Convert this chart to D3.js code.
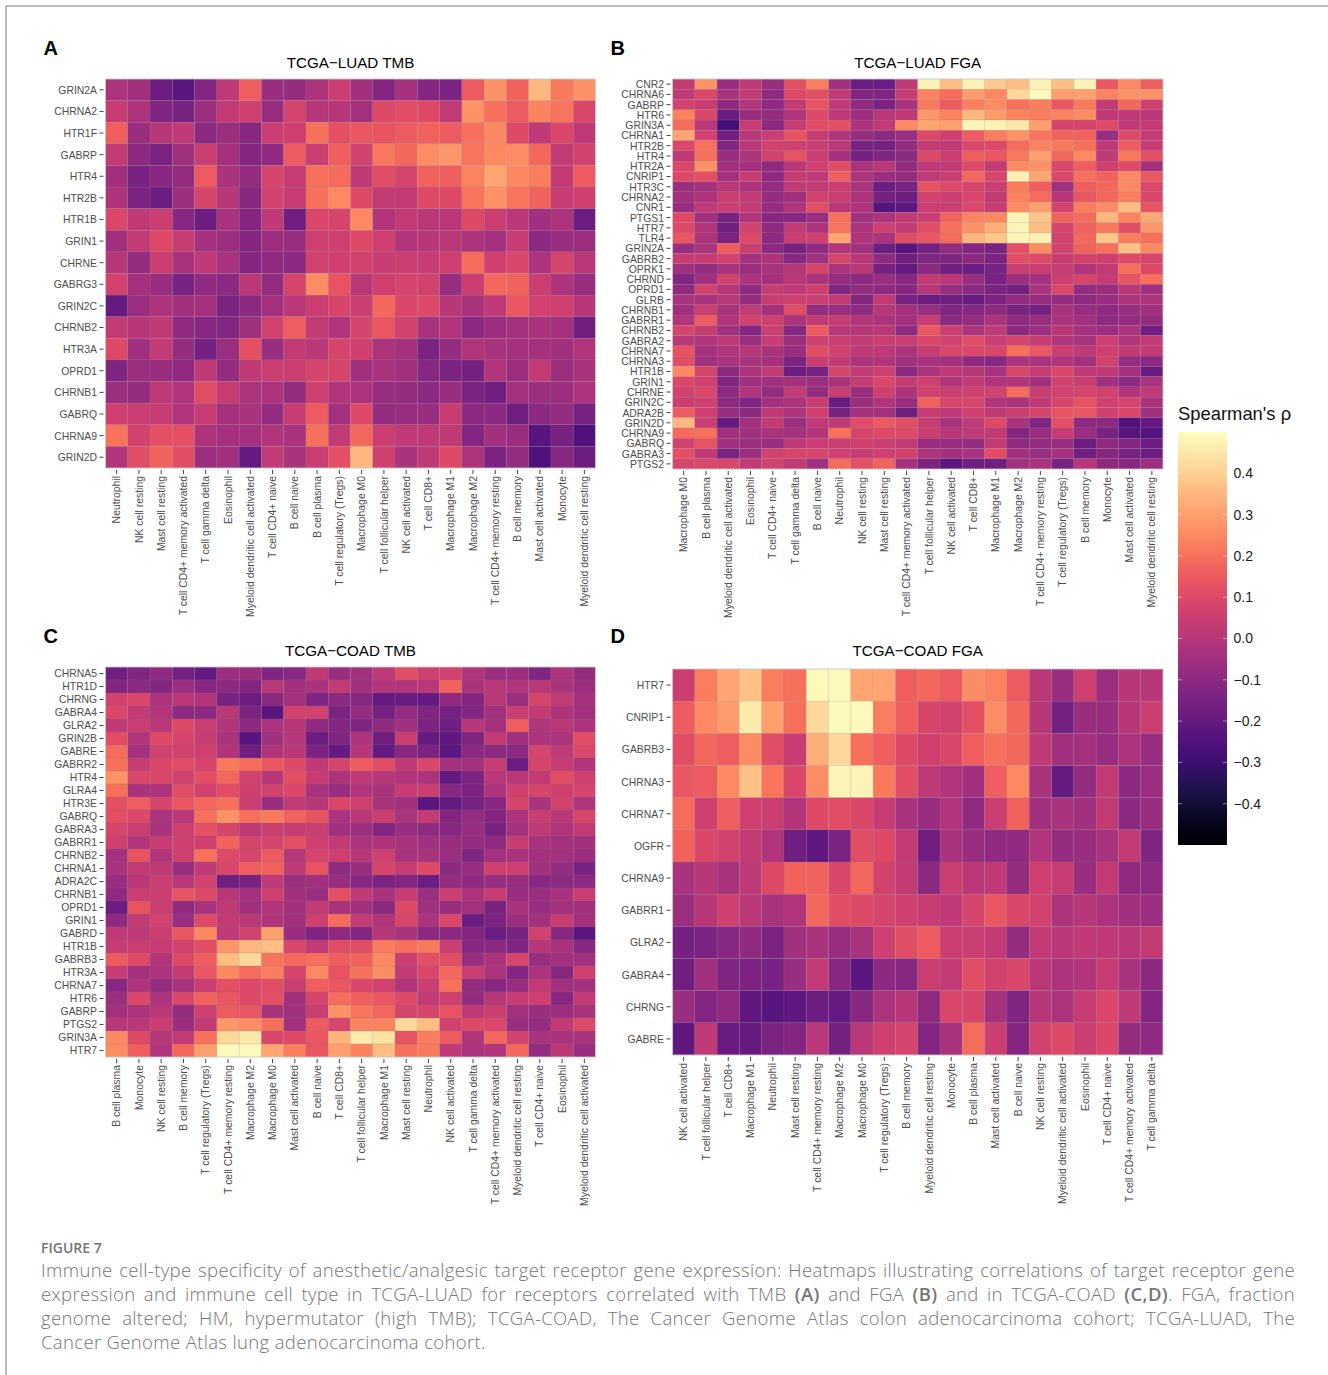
<!DOCTYPE html>
<html lang="en">
<head>
<meta charset="UTF-8">
<title>Figure 7</title>
<script src="https://d3js.org/d3.v7.min.js"></script>
<style>
  body { margin: 0; background: #fff; }
  svg { display: block; }
  text { font-family: "Liberation Sans", Arial, sans-serif; }
  .axis text { fill: #4d4d4d; font-size: 10.4px; font-family: "Liberation Sans", Arial, sans-serif; }
  .axis line { stroke: #444; stroke-width: 1; }
  .axis path { display: none; }
  .title { font-size: 15.2px; fill: #000; text-anchor: middle; }
  .letter { font-size: 20px; font-weight: bold; fill: #000; }
  .cap { font-family: "Open Sans", sans-serif; fill: #757575; font-size: 18.5px; font-weight: 300; letter-spacing: 0.35px; }
</style>
</head>
<body>
<svg width="1328" height="1375"></svg>
<script>
var luadTmbGenes = ["GRIN2A","CHRNA2","HTR1F","GABRP","HTR4","HTR2B","HTR1B","GRIN1","CHRNE","GABRG3","GRIN2C","CHRNB2","HTR3A","OPRD1","CHRNB1","GABRQ","CHRNA9","GRIN2D"];
var luadTmbCells = ["Neutrophil","NK cell resting","Mast cell resting","T cell CD4+ memory activated","T cell gamma delta","Eosinophil","Myeloid dendritic cell activated","T cell CD4+ naive","B cell naive","B cell plasma","T cell regulatory (Tregs)","Macrophage M0","T cell follicular helper","NK cell activated","T cell CD8+","Macrophage M1","Macrophage M2","T cell CD4+ memory resting","B cell memory","Mast cell activated","Monocyte","Myeloid dendritic cell resting"];
var luadTmbRho = [
[-.02,-.05,-.18,-.22,-.12,.02,.16,-.07,-.08,-.02,.05,-.05,-.12,-.04,-.12,-.14,.15,.27,.17,.35,.22,.27],
[.04,-.02,-.13,-.15,-.06,.03,.06,-.07,.08,0,0,-.04,.1,.11,.1,.03,.27,.2,.15,.24,.21,.09],
[.16,-.07,0,.02,-.1,-.06,-.11,.05,.06,.2,.12,.14,.13,.15,.17,.15,.2,.25,.1,.02,.09,.02],
[.03,-.1,-.14,-.05,.05,-.04,-.12,-.09,.15,.05,.16,.07,.22,.18,.26,.28,.21,.25,.26,.18,.03,.07],
[-.05,-.15,-.11,-.08,.15,-.03,-.08,.08,.04,.2,.19,.02,.11,.08,.17,.16,.24,.31,.25,.23,.03,.15],
[-.02,-.14,-.18,-.06,.08,0,-.11,.07,.04,.2,.25,.1,.03,.03,.1,.1,.21,.27,.21,.17,.04,.06],
[.09,.02,.05,-.11,-.18,-.03,-.12,.02,-.17,.09,.08,.25,-.01,.03,.01,.01,.1,.05,.01,-.05,-.02,-.18],
[-.05,.03,.1,.04,-.04,-.06,-.12,-.06,-.07,.06,.06,.1,.06,-.01,0,.01,-.02,-.04,.04,-.1,-.07,-.06],
[0,-.08,.05,-.03,.02,-.03,-.12,-.09,-.1,.07,.06,.07,.04,.05,.04,.06,.19,.06,.09,-.02,.08,.01],
[.07,-.04,-.07,-.15,-.09,-.1,.01,-.08,.08,.26,.13,.01,.06,.08,.07,-.07,.05,.18,.17,.05,-.02,-.07],
[-.2,-.06,-.02,-.05,-.04,-.14,-.1,-.04,.01,.05,.08,.05,.18,.09,.1,0,-.03,.02,.14,.07,.06,0],
[.03,0,.02,-.09,-.11,-.12,-.05,.07,.16,.03,-.01,.08,.14,.07,-.03,-.01,-.1,-.06,-.04,-.03,-.04,-.17],
[.1,-.05,.03,-.08,-.16,-.06,.12,-.07,.03,.01,.08,.06,-.02,-.04,-.14,-.08,-.01,-.03,-.04,-.04,-.05,-.01],
[-.13,-.06,-.07,-.09,.02,-.08,.02,.05,.05,.08,.08,-.05,-.03,-.05,-.11,-.14,-.16,-.01,-.06,.03,-.06,-.03],
[-.06,-.08,.02,-.01,.11,.04,-.02,-.02,-.08,.06,-.01,-.02,-.07,-.08,-.1,-.07,-.14,-.17,-.04,-.06,-.06,-.02],
[.06,.05,.04,-.01,.04,-.04,-.03,-.08,.04,.15,-.04,.1,-.08,-.07,-.07,.04,-.1,-.1,-.17,-.1,-.08,-.15],
[.21,.07,.12,.12,-.02,-.04,-.04,-.01,-.03,.2,.03,.18,.05,.02,.02,.02,-.12,-.05,-.07,-.23,-.15,-.25],
[-.01,.11,.17,.11,-.06,-.05,-.2,.03,-.03,.05,.12,.35,.06,-.03,.02,.1,-.02,-.14,-.08,-.25,-.11,-.18]
];

var luadFgaGenes = ["CNR2","CHRNA6","GABRP","HTR6","GRIN3A","CHRNA1","HTR2B","HTR4","HTR2A","CNRIP1","HTR3C","CHRNA2","CNR1","PTGS1","HTR7","TLR4","GRIN2A","GABRB2","OPRK1","CHRND","OPRD1","GLRB","CHRNB1","GABRR1","CHRNB2","GABRA2","CHRNA7","CHRNA3","HTR1B","GRIN1","CHRNE","GRIN2C","ADRA2B","GRIN2D","CHRNA9","GABRQ","GABRA3","PTGS2"];
var luadFgaCells = ["Macrophage M0","B cell plasma","Myeloid dendritic cell activated","Eosinophil","T cell CD4+ naive","T cell gamma delta","B cell naive","Neutrophil","NK cell resting","Mast cell resting","T cell CD4+ memory activated","T cell follicular helper","NK cell activated","T cell CD8+","Macrophage M1","Macrophage M2","T cell CD4+ memory resting","T cell regulatory (Tregs)","B cell memory","Monocyte","Mast cell activated","Myeloid dendritic cell resting"];
var luadFgaRho = [
[.03,.27,-.07,.02,-.07,.12,.23,-.05,-.18,-.18,.02,.48,.36,.48,.39,.36,.47,.36,.48,.14,.25,.16],
[.02,.09,-.03,.03,-.09,.1,.11,.02,-.13,-.13,.04,.24,.19,.29,.25,.42,.49,.3,.3,.24,.27,.27],
[.07,.05,-.09,-.01,-.09,.03,.13,.02,-.09,-.14,-.03,.22,.15,.23,.26,.2,.23,.14,.22,.03,.18,.06],
[.24,.09,-.19,-.07,-.08,-.01,.1,.02,-.06,.01,.02,.28,.24,.35,.29,.24,.23,.24,.26,.02,.02,.01],
[.19,.01,-.27,.04,-.1,.04,.11,.12,-.02,.03,.25,.31,.3,.48,.48,.45,.3,.08,.08,.1,.02,.03],
[.31,.07,-.17,0,.05,.13,.04,-.01,-.08,-.1,-.07,.1,.06,.15,.23,.27,.21,.17,.17,-.07,.1,.03],
[.09,.2,-.12,.01,.07,.06,.05,.01,-.15,-.16,-.08,.03,.02,.09,.1,.19,.24,.22,.2,.02,.16,.04],
[.02,.2,-.07,-.02,.07,.13,.05,-.04,-.16,-.13,-.1,.1,.05,.16,.14,.22,.3,.18,.25,.02,.22,.12],
[.09,.27,-.04,-.04,-.09,.01,.06,.11,-.03,0,-.08,.02,.03,.1,.03,.26,.27,.09,.16,.06,.1,-.04],
[.1,.12,-.04,.04,-.09,.04,.02,.16,-.02,-.07,-.08,.02,.05,.18,.08,.47,.31,.09,.2,.17,.25,.14],
[-.06,-.04,.01,-.02,-.08,.02,.03,.05,-.03,-.18,-.15,.13,.1,.08,.05,.23,.16,-.05,.16,.18,.25,.09],
[-.05,-.02,.05,.03,-.08,-.05,.07,.05,-.02,-.16,-.18,.07,.05,.09,.03,.24,.19,0,.14,.18,.23,.09],
[-.07,.02,.05,.03,-.08,-.01,.11,.01,-.02,-.24,-.22,.05,.05,.09,.04,.26,.3,.07,.23,.26,.36,.13],
[.1,-.05,-.15,-.01,-.11,-.11,-.07,.2,-.05,-.02,.03,.05,.17,.24,.25,.48,.38,.17,.19,.35,.24,.32],
[.1,-.01,-.17,.07,-.09,.03,-.02,.21,-.02,.06,.03,.11,.2,.27,.33,.48,.36,.08,.17,.22,.11,.28],
[.14,-.02,-.14,.1,-.1,.05,.06,.31,-.01,-.02,.11,.14,.19,.35,.38,.48,.47,.07,.18,.38,.23,.2],
[-.07,-.03,.16,.05,-.1,-.15,-.09,-.01,-.05,-.18,-.23,-.16,-.08,-.12,-.15,.12,.26,.07,.17,.2,.37,.25],
[.04,.04,.07,-.05,-.02,-.11,-.05,.08,.01,-.09,-.17,-.13,-.13,-.1,-.14,.11,.1,.04,.07,.06,.1,.08],
[-.05,-.08,-.03,-.06,-.03,0,.08,-.02,.01,-.16,-.2,-.1,-.17,-.18,-.15,.05,.05,.04,-.01,.03,.2,.1],
[-.13,-.05,.07,-.02,-.04,.01,-.03,-.08,-.1,-.06,-.11,.03,.01,-.07,-.15,-.06,-.04,.05,.08,.04,.13,.2],
[-.09,.07,0,-.09,.04,.02,.06,-.13,-.08,-.09,-.11,0,-.07,-.1,-.14,-.16,-.03,.09,-.08,-.07,.01,-.05],
[-.03,-.03,.01,-.08,.04,.06,.05,.03,-.12,.03,-.15,-.18,-.17,-.19,-.14,-.08,-.07,-.08,-.09,-.07,-.02,-.02],
[-.05,.05,-.03,.03,-.04,.11,-.08,-.07,-.09,0,-.04,-.07,-.13,-.11,-.09,-.15,-.16,-.03,-.07,-.09,-.07,-.05],
[-.01,.15,-.01,.07,.06,-.02,.03,.04,-.01,-.02,-.04,.04,-.1,-.08,-.03,-.09,-.07,-.03,-.05,-.09,-.08,-.08],
[.08,.04,-.05,-.12,.05,-.11,.15,.01,0,.01,-.1,.14,.05,-.02,.02,-.1,-.06,.01,-.04,-.06,-.02,-.17],
[.01,-.01,.02,-.06,.04,-.06,.06,.05,.03,.05,.05,.09,.07,.11,.05,.08,.04,-.01,-.03,.06,-.01,.03],
[.13,-.04,-.01,0,-.03,-.07,.11,.07,.02,.02,-.02,.04,.09,.09,.09,.2,.14,.05,.02,.06,.03,.03],
[.11,-.05,-.03,-.03,-.04,-.14,.05,.03,-.02,-.01,-.05,-.03,-.04,-.09,-.11,-.02,-.03,-.01,-.04,.07,-.08,-.1],
[.25,.08,-.1,-.02,.03,-.18,-.15,.08,.03,.06,-.1,-.02,.02,0,-.03,.09,.04,.09,.02,.02,-.04,-.19],
[.09,.06,-.12,-.05,-.05,-.04,-.06,-.03,.04,.09,.04,.06,-.01,.03,-.01,-.01,-.04,.07,.05,-.05,-.1,-.03],
[.07,.09,-.1,-.01,-.08,.03,-.08,.05,-.07,.06,-.02,.07,.05,.06,.07,.19,.05,.07,.08,.07,-.01,.02],
[.05,.06,-.09,-.13,-.04,-.02,.04,-.19,-.06,-.01,-.07,.17,.08,.08,-.01,-.03,.02,.08,.13,.06,.08,-.03],
[.15,.06,-.07,-.1,.02,-.02,.06,-.15,-.04,-.04,-.17,.04,.02,.06,.02,.05,.08,.13,.14,.06,.09,-.05],
[.35,.05,-.2,-.04,.03,-.06,.02,.02,.11,.15,.11,.05,-.03,.02,.1,-.03,-.13,.12,-.09,-.1,-.25,-.2],
[.19,.2,-.05,-.05,-.03,-.04,-.01,.2,.08,.1,.1,.05,.01,.02,.03,-.12,-.07,.04,-.07,-.15,-.23,-.24],
[.07,.13,-.05,-.06,-.07,.02,.05,.05,.06,.05,.03,-.07,-.07,-.08,.03,-.09,-.08,-.07,-.18,-.09,-.12,-.18],
[.12,.02,-.15,-.06,.07,.08,.08,.06,.04,.06,.07,-.02,-.05,-.03,.11,-.05,-.07,-.04,-.17,-.11,-.15,-.18],
[.08,.09,.09,.03,.07,.03,-.05,.19,.12,.17,-.04,-.14,-.22,-.17,-.17,-.05,-.03,-.15,0,-.09,-.11,-.06]
];

var coadTmbGenes = ["CHRNA5","HTR1D","CHRNG","GABRA4","GLRA2","GRIN2B","GABRE","GABRR2","HTR4","GLRA4","HTR3E","GABRQ","GABRA3","GABRR1","CHRNB2","CHRNA1","ADRA2C","CHRNB1","OPRD1","GRIN1","GABRD","HTR1B","GABRB3","HTR3A","CHRNA7","HTR6","GABRP","PTGS2","GRIN3A","HTR7"];
var coadTmbCells = ["B cell plasma","Monocyte","NK cell resting","B cell memory","T cell regulatory (Tregs)","T cell CD4+ memory resting","Macrophage M2","Macrophage M0","Mast cell activated","B cell naive","T cell CD8+","T cell follicular helper","Macrophage M1","Mast cell resting","Neutrophil","NK cell activated","T cell gamma delta","T cell CD4+ memory activated","Myeloid dendritic cell resting","T cell CD4+ naive","Eosinophil","Myeloid dendritic cell activated"];
var coadTmbRho = [
[-.17,-.13,-.09,-.16,-.2,-.06,-.07,-.13,-.11,.02,-.07,-.05,.02,.11,.06,.07,-.01,-.06,-.06,-.13,-.02,-.08],
[-.12,-.1,-.12,-.06,-.11,-.1,-.12,.01,-.05,-.03,.03,-.05,-.01,-.01,.01,.17,-.03,.01,-.01,.01,-.03,-.06],
[.07,.09,-.02,.01,-.01,-.15,-.18,-.1,-.04,-.13,-.1,-.11,-.2,-.19,-.2,-.09,-.12,.01,-.06,.08,.03,-.04],
[.09,.03,-.01,-.1,-.1,.01,-.14,-.23,.07,.07,-.14,-.08,-.16,-.08,-.13,-.16,-.12,-.05,.05,.03,-.02,-.05],
[.02,.05,.01,.1,.05,-.01,-.1,-.02,0,-.09,-.12,-.13,-.09,-.05,-.14,-.17,0,-.04,.16,-.01,.01,-.02],
[.11,-.01,.1,.08,.04,-.03,-.23,-.05,0,-.18,-.13,-.02,-.17,.05,-.2,-.21,-.13,.03,-.05,-.02,-.02,.11],
[.19,-.04,.07,.07,.06,-.01,-.17,-.01,.01,-.14,-.2,0,-.2,-.11,-.14,-.22,-.1,-.1,-.1,.08,.02,.09],
[.2,.04,.09,.11,.08,.22,.19,.14,.1,.02,.08,.15,.11,.02,.09,-.04,-.04,.04,-.18,.08,.04,-.01],
[.27,.09,.09,.07,.12,.18,.07,0,.12,.04,-.02,.02,0,-.01,-.02,-.2,-.14,.01,.01,.03,.11,.06],
[.2,-.03,-.02,.11,.07,.11,.06,.07,.09,-.03,-.07,-.01,-.03,.04,.05,-.11,-.14,-.02,.06,.08,.06,.08],
[.12,.16,.08,.14,.18,.2,.05,-.07,.03,0,.09,.06,-.03,-.05,-.22,-.2,-.15,-.11,.08,-.03,.07,-.01],
[.12,.09,-.03,.01,.2,.27,.2,.22,.17,.13,-.02,.01,.05,-.03,.03,-.12,-.08,-.12,-.02,.05,.01,.08],
[.08,.05,-.03,.06,.12,.08,.02,.05,.04,.05,-.05,-.06,-.12,-.07,-.09,-.11,-.07,-.15,-.04,.02,-.01,.03],
[.06,-.01,.04,.06,.06,.17,.08,.08,.12,.06,.03,-.02,-.02,-.03,-.05,-.07,-.08,-.09,.04,-.03,-.04,-.05],
[-.04,.13,-.01,.06,.2,.1,.08,.15,0,.08,.06,0,.06,-.03,-.03,-.07,-.13,-.04,-.03,-.04,-.05,-.06],
[-.03,.03,.02,-.07,.02,.09,.16,.17,.02,.13,-.09,-.07,.08,.04,.1,-.1,-.07,.06,.06,-.05,-.08,-.15],
[-.07,.01,.05,.01,.07,-.17,-.15,.02,-.06,-.05,-.07,-.11,-.14,-.12,-.18,-.08,-.09,-.07,-.07,-.11,-.1,-.1],
[-.09,.05,.05,.13,.1,0,-.04,.06,-.05,-.06,.12,.02,-.03,.04,-.06,.05,-.02,.04,-.07,-.06,-.03,.05],
[-.18,.13,.05,-.09,-.03,.02,-.05,-.01,-.05,.03,-.03,-.05,-.1,.1,-.05,-.07,-.04,-.15,-.03,-.07,-.04,-.05],
[-.09,.03,.07,-.07,.1,.03,.01,-.01,-.05,.06,.19,.03,-.01,.08,-.02,.09,-.18,-.14,-.06,-.04,.04,-.04],
[.02,.02,.05,.14,.25,.02,.07,.3,-.07,-.13,-.09,-.12,0,-.03,-.1,-.1,-.12,-.18,-.15,.07,-.11,-.22],
[.04,.05,.04,.07,.11,.28,.35,.36,.09,.03,.11,.11,.23,.2,.22,.05,-.11,-.1,-.13,0,-.03,-.11],
[.15,.1,-.01,.1,.16,.36,.42,.21,.18,.2,.16,.17,.25,.05,.12,.11,-.07,-.02,.08,-.07,-.05,-.05],
[.04,-.04,-.02,.03,.14,.25,.19,.23,.08,.25,.13,.2,.26,.03,.09,.18,.05,-.02,-.12,-.02,-.11,.06],
[-.11,-.02,-.08,-.03,.05,.12,.1,.11,.05,.16,.14,.09,.07,-.01,.05,.2,-.08,-.11,-.07,.03,-.05,-.05],
[-.06,.09,-.02,.09,.17,.14,.1,.12,-.05,.08,.19,.16,.14,.1,.03,.06,-.08,0,.04,.06,-.11,.03],
[-.04,-.02,.01,-.08,.06,.15,.14,-.03,-.05,.05,.27,.21,.18,.08,.08,.13,.02,.05,-.04,-.07,-.06,-.03],
[.01,.01,.05,-.07,.03,.28,.26,.2,-.05,.15,.08,.24,.24,.42,.36,.07,.1,.09,-.07,-.08,.03,.1],
[.25,.1,0,.03,.2,.42,.45,.09,.1,.14,.34,.46,.44,.13,.23,.15,-.01,.18,.07,-.03,-.03,-.03],
[.26,.16,-.01,.18,.3,.49,.49,.31,.23,.14,.3,.24,.36,.2,.22,.02,-.02,-.01,.18,-.08,.01,-.07]
];

var coadFgaGenes = ["HTR7","CNRIP1","GABRB3","CHRNA3","CHRNA7","OGFR","CHRNA9","GABRR1","GLRA2","GABRA4","CHRNG","GABRE"];
var coadFgaCells = ["NK cell activated","T cell follicular helper","T cell CD8+","Macrophage M1","Neutrophil","Mast cell resting","T cell CD4+ memory resting","Macrophage M2","Macrophage M0","T cell regulatory (Tregs)","B cell memory","Myeloid dendritic cell resting","Monocyte","B cell plasma","Mast cell activated","B cell naive","NK cell resting","Myeloid dendritic cell activated","Eosinophil","T cell CD4+ naive","T cell CD4+ memory activated","T cell gamma delta"];
var coadFgaRho = [
[.05,.23,.31,.37,.23,.2,.49,.49,.31,.31,.16,.18,.15,.26,.24,.15,.01,-.07,.06,-.06,0,0],
[.15,.25,.29,.46,.3,.2,.42,.49,.49,.23,.16,.08,.07,.12,.26,.18,0,-.16,-.07,-.07,0,.05],
[.11,.18,.16,.26,.11,.04,.33,.42,.2,.16,.1,.06,.09,.16,.2,.18,.02,-.05,-.04,-.07,-.02,-.07],
[.14,.15,.25,.37,.21,.09,.26,.48,.48,.22,.11,.02,-.01,-.05,.16,.25,-.03,-.2,-.08,.03,-.1,-.06],
[.19,.06,.16,.06,.05,-.01,.1,.11,.09,.04,-.03,-.07,-.01,-.09,.05,.17,-.05,-.03,-.05,.03,-.1,-.07],
[.17,.09,.07,.03,-.01,-.17,-.21,-.14,.11,.1,.03,-.17,-.03,-.07,-.09,-.09,-.01,-.08,-.07,-.03,.03,-.13],
[-.03,0,-.03,.02,.1,.17,.17,.09,.18,.07,.03,-.1,.05,.01,.02,-.08,.06,.04,-.07,.03,-.09,-.09],
[-.06,0,.06,.01,-.03,-.01,.18,.11,.1,.08,.06,.04,.02,.08,.14,.09,.07,-.02,0,-.02,-.05,-.06],
[-.16,-.14,-.11,-.09,-.14,-.05,-.03,-.07,-.03,.06,.11,.15,.05,.05,.03,-.08,.03,.01,.02,.02,.01,.03],
[-.17,-.05,-.13,-.14,-.15,-.07,.03,-.11,-.22,-.1,-.11,.05,.03,.11,.07,.09,.01,-.02,-.01,.04,-.03,-.1],
[-.07,-.12,-.09,-.21,-.23,-.21,-.18,-.2,-.11,-.02,0,-.09,.09,.08,-.04,-.13,0,-.02,.04,.09,.02,-.12],
[-.21,.02,-.19,-.2,-.14,-.12,.01,-.16,.01,.06,.08,-.12,-.03,.19,.05,-.12,.07,.1,.05,.09,-.08,-.09]
];

var legendTicks = [-0.4,-0.3,-0.2,-0.1,0,0.1,0.2,0.3,0.4];

var svg = d3.select("svg");
var color = d3.scaleSequential(d3.interpolateMagma).domain([-0.5, 0.5]);

// page frame
svg.append("path").attr("d", "M1328,6H6V1375").attr("fill", "none").attr("stroke", "#777").attr("stroke-width", 1);

var panels = [
    {letter: "A", title: "TCGA\u2212LUAD TMB", genes: luadTmbGenes, cells: luadTmbCells, rho: luadTmbRho, x0: 105.5, x1: 595.5, y0: 79, y1: 468, ly: 55},
    {letter: "B", title: "TCGA\u2212LUAD FGA", genes: luadFgaGenes, cells: luadFgaCells, rho: luadFgaRho, x0: 672.5, x1: 1163, y0: 79, y1: 469, ly: 55},
    {letter: "C", title: "TCGA\u2212COAD TMB", genes: coadTmbGenes, cells: coadTmbCells, rho: coadTmbRho, x0: 105.5, x1: 595.5, y0: 667, y1: 1057, ly: 643},
    {letter: "D", title: "TCGA\u2212COAD FGA", genes: coadFgaGenes, cells: coadFgaCells, rho: coadFgaRho, x0: 672.5, x1: 1163, y0: 669, y1: 1055, ly: 643}
];

panels.forEach(function(p) {
    var x = d3.scaleBand().domain(p.cells).range([p.x0, p.x1]);
    var y = d3.scaleBand().domain(p.genes).range([p.y0, p.y1]);
    var g = svg.append("g");

    p.rho.forEach(function(row, i) {
        g.selectAll(null)
            .data(row)
            .enter().append("rect")
            .attr("x", function(d, j) { return x(p.cells[j]); })
            .attr("y", y(p.genes[i]))
            .attr("width", x.bandwidth())
            .attr("height", y.bandwidth())
            .attr("fill", function(d) { return color(d); })
            .attr("stroke", "#808080")
            .attr("stroke-opacity", 0.3)
            .attr("stroke-width", 0.5);
    });

    // light edge around the tiles
    svg.append("rect")
        .attr("x", p.x0).attr("y", p.y0)
        .attr("width", p.x1 - p.x0).attr("height", p.y1 - p.y0)
        .attr("fill", "none").attr("stroke", "#cfcfcf").attr("stroke-width", 0.8);

    // ticks sit a little way off the tiles
    svg.append("g").attr("class", "axis")
        .attr("transform", "translate(" + (p.x0 - 2) + ",0)")
        .call(d3.axisLeft(y).tickSize(4).tickPadding(2.5))
        .selectAll("text").attr("dy", "0.38em");

    svg.append("g").attr("class", "axis")
        .attr("transform", "translate(0," + (p.y1 + 2) + ")")
        .call(d3.axisBottom(x).tickSize(4).tickPadding(2))
        .selectAll("text")
        .attr("transform", "rotate(-90)")
        .attr("text-anchor", "end")
        .attr("x", -6)
        .attr("y", 0)
        .attr("dy", "0.35em");

    svg.append("text").attr("class", "title")
        .attr("x", (p.x0 + p.x1) / 2).attr("y", p.letter < "C" ? 68 : 656)
        .text(p.title);

    svg.append("text").attr("class", "letter")
        .attr("x", p.x0 - 62).attr("y", p.ly)
        .text(p.letter);
});

// colour legend
var legendY = d3.scaleLinear().domain([-0.5, 0.5]).range([845, 432]);
var defs = svg.append("defs");
var grad = defs.append("linearGradient").attr("id", "magmaBar")
    .attr("x1", 0).attr("x2", 0).attr("y1", 1).attr("y2", 0);
d3.range(0, 1.001, 0.05).forEach(function(t) {
    grad.append("stop").attr("offset", t).attr("stop-color", d3.interpolateMagma(t));
});
svg.append("rect").attr("x", 1178).attr("y", 432).attr("width", 49).attr("height", 413).attr("fill", "url(#magmaBar)");

legendTicks.forEach(function(t) {
    [[1178, 1182], [1223, 1227]].forEach(function(s) {
        svg.append("line").attr("x1", s[0]).attr("x2", s[1])
            .attr("y1", legendY(t)).attr("y2", legendY(t))
            .attr("stroke", "#fff").attr("stroke-opacity", 0.8).attr("stroke-width", 0.6);
    });
    svg.append("text").attr("x", 1233.5).attr("y", legendY(t)).attr("dy", "0.35em")
        .attr("font-size", 14).attr("fill", "#1a1a1a")
        .text(d3.format(".1f")(t).replace("-", "\u2212"));
});

svg.append("text").attr("x", 1178).attr("y", 420).attr("font-size", 18.4).attr("fill", "#111").text("Spearman's \u03C1");

// caption
svg.append("text").attr("class", "cap").attr("x", 41).attr("y", 1253)
    .style("font-size", "14px").style("font-weight", 600).style("letter-spacing", "0").text("FIGURE 7");

var captionLines = [
    [["Immune cell-type specificity of anesthetic/analgesic target receptor gene expression: Heatmaps illustrating correlations of target receptor gene", 0]],
    [["expression and immune cell type in TCGA-LUAD for receptors correlated with TMB ", 0], ["(A)", 1], [" and FGA ", 0], ["(B)", 1], [" and in TCGA-COAD ", 0], ["(C,D)", 1], [". FGA, fraction", 0]],
    [["genome altered; HM, hypermutator (high TMB); TCGA-COAD, The Cancer Genome Atlas colon adenocarcinoma cohort; TCGA-LUAD, The", 0]],
    [["Cancer Genome Atlas lung adenocarcinoma cohort.", 0]]
];
var captionY = [1277, 1301, 1325, 1349];
captionLines.forEach(function(parts, i) {
    var t = svg.append("text").attr("class", "cap").attr("x", 41).attr("y", captionY[i]);
    var spaces = 0;
    parts.forEach(function(pt) {
        t.append("tspan").style("font-weight", pt[1] ? 600 : 300).text(pt[0]);
        spaces += pt[0].split(" ").length - 1;
    });
    if (i < 3) {
        var len = t.node().getComputedTextLength();
        t.style("word-spacing", ((1295 - 41 - len) / spaces) + "px");
    }
});
</script>
</body>
</html>
